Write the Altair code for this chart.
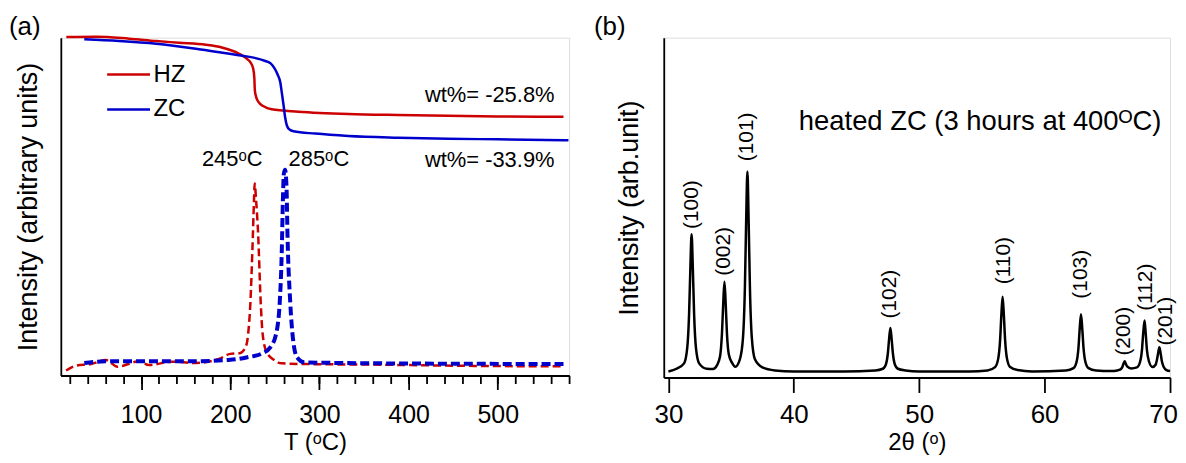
import altair as alt
import pandas as pd

FONT = "Liberation Sans"
RED = "#cc0000"
BLUE = "#0000cc"

# ---------------- panel (a): TGA (solid) and DTA (dashed) ----------------
hz_tga_T = [16.2, 49.7, 86.6, 116.8, 142.5, 172.6, 190.5, 209.5, 218.4, 222.9, 225.7,
            227.0, 227.6, 229.1, 231.8, 237.4, 246.4, 276.5, 332.4, 388.3, 444.1, 500.0, 573.7]
hz_tga_v = [100.2, 100.3, 99.7, 99.0, 98.5, 97.9, 97.1, 95.3, 93.8, 92.6, 90.9,
            88.2, 84.4, 82.4, 80.9, 79.7, 78.8, 78.1, 77.4, 77.1, 76.9, 76.7, 76.6]

zc_tga_T = [36.3, 75.4, 116.8, 164.8, 209.5, 226.3, 239.3, 245.3, 249.7, 253.1, 256.1, 258.1,
            259.8, 261.5, 263.5, 266.5, 271.0, 295.2, 332.4, 388.3, 444.1, 500.0, 579.3]
zc_tga_v = [99.5, 99.0, 98.2, 96.6, 94.8, 94.1, 93.1, 92.4, 90.9, 89.1, 86.8, 83.2,
            80.0, 76.5, 74.0, 72.8, 72.3, 71.6, 70.9, 70.4, 70.1, 69.9, 69.6]

hz_dta_T = [15.9, 27.0, 43.9, 60.6, 73.5, 97.8, 108.9, 134.6, 161.1, 187.2, 200.0, 210.6,
            217.1, 220.1, 222.7, 224.8, 226.6, 227.4, 229.1, 231.3, 234.1, 236.3, 240.8,
            249.2, 257.5, 283.2, 368.9, 454.2, 573.3]
hz_dta_v = [1.5, 2.9, 3.4, 4.6, 2.6, 4.2, 3.1, 4.1, 3.7, 4.9, 6.4, 6.6,
            8.3, 12.3, 22.1, 36.8, 51.5, 56.8, 51.5, 41.8, 22.1, 12.4, 6.9,
            4.6, 3.6, 3.4, 3.2, 2.9, 2.7]

zc_dta_T = [36.3, 60.6, 69.8, 154.7, 197.9, 209.5, 219.3, 236.3, 244.9, 251.4, 255.6, 257.8,
            259.0, 260.1, 261.5, 263.1, 264.2, 267.2, 270.6, 274.9, 283.2, 368.9, 578.0]
zc_dta_v = [3.7, 4.2, 4.2, 4.2, 4.6, 4.9, 5.4, 6.6, 8.3, 12.3, 22.1, 36.8,
            51.5, 59.7, 60.9, 55.9, 41.7, 22.1, 10.3, 5.4, 3.9, 3.6, 3.4]

ann_text = ["wt%= -25.8%", "wt%= -33.9%", "245ᵒC", "285ᵒC"]
ann_T = [491.0, 491.0, 202.2, 299.4]
ann_v = [82.9, 63.8, 64.1, 64.1]

# ---------------- panel (b): XRD ----------------
two_theta = [30.00, 30.65, 31.25, 31.50, 31.65, 31.75, 31.85, 31.95, 32.05, 32.20, 32.45, 33.05,
             33.55, 33.87, 34.12, 34.27, 34.37, 34.47, 34.57, 34.67, 34.82, 35.07, 35.33,
             35.70, 35.95, 36.10, 36.20, 36.30, 36.40, 36.50, 36.65, 36.90, 37.50, 38.50,
             40.00, 44.00,
             46.50, 47.10, 47.35, 47.50, 47.60, 47.70, 47.80, 47.90, 48.05, 48.30, 48.90,
             50.00, 54.00,
             55.45, 56.05, 56.30, 56.45, 56.55, 56.65, 56.75, 56.85, 57.00, 57.25, 57.85,
             59.00,
             61.70, 62.30, 62.55, 62.70, 62.80, 62.90, 63.00, 63.10, 63.25, 63.50, 64.10,
             65.30, 65.80, 66.05, 66.20, 66.28, 66.38, 66.48, 66.58, 66.90,
             67.36, 67.61, 67.76, 67.86, 67.97, 68.06, 68.16, 68.31, 68.60,
             68.85, 68.95, 69.05, 69.15, 69.25, 69.35, 69.50, 69.72, 70.00]
intensity = [18, 26, 42, 87, 189, 323, 425, 323, 189, 87, 42, 26,
             25, 36, 63, 130, 218, 284, 218, 130, 68, 44, 32,
             54, 119, 268, 463, 612, 463, 268, 119, 54, 30, 21,
             18, 18,
             21, 26, 40, 72, 115, 147, 115, 72, 40, 26, 21,
             18, 18,
             21, 31, 56, 111, 185, 240, 185, 111, 56, 31, 22,
             18,
             21, 28, 47, 89, 146, 188, 146, 89, 47, 28, 21,
             19, 21, 24, 31, 40, 48, 40, 33, 27,
             30, 46, 81, 131, 169, 131, 81, 49, 31,
             38, 51, 72, 90, 72, 48, 31, 22, 19]

hkl = ["(100)", "(002)", "(101)", "(102)", "(110)", "(103)", "(200)", "(112)", "(201)"]
hkl_x = [31.85, 34.47, 36.30, 47.70, 56.75, 62.90, 66.30, 68.06, 69.69]
hkl_y = [441, 302, 642, 175, 277, 234, 65, 198, 95]

# ---------------- data frames ----------------
tga = pd.DataFrame({
    "T": hz_tga_T + zc_tga_T,
    "v": hz_tga_v + zc_tga_v,
    "sample": ["HZ"] * len(hz_tga_T) + ["ZC"] * len(zc_tga_T),
})
dta_hz = pd.DataFrame({"T": hz_dta_T, "v": hz_dta_v})
dta_zc = pd.DataFrame({"T": zc_dta_T, "v": zc_dta_v})
ann = pd.DataFrame({"T": ann_T, "v": ann_v, "label": ann_text})
xrd = pd.DataFrame({"tt": two_theta, "I": intensity})
hkl_df = pd.DataFrame({"tt": hkl_x, "I": hkl_y, "label": hkl})

AXW = 1.8
xscale_a = alt.Scale(domain=[10, 580], nice=False, zero=False)
yscale_a = alt.Scale(domain=[0, 100], nice=False, zero=False)

axis_minor = alt.Axis(
    orient="bottom", values=list(range(20, 581, 20)), tickSize=8, labels=False,
    title=None, grid=False, domainColor="black", tickColor="black",
    domainWidth=AXW, tickWidth=AXW)
axis_major = alt.Axis(
    orient="bottom", values=[100, 200, 300, 400, 500], tickSize=14, labelFontSize=25,
    labelPadding=13, labelFlush=False, labelColor="black", labelFont=FONT,
    title="T (ᵒC)", titleFontSize=24, titleFont=FONT, titleFontWeight="normal",
    titleColor="black", titlePadding=3, grid=False, domainColor="black",
    tickColor="black", domainWidth=AXW, tickWidth=AXW)
axis_ya = alt.Axis(
    ticks=False, labels=False, grid=False, title="Intensity (arbitrary units)",
    titleFontSize=27, titleFont=FONT, titleFontWeight="normal", titleColor="black",
    titlePadding=18, domainColor="black", domainWidth=AXW)


def xa_minor():
    return alt.X("T:Q", scale=xscale_a, axis=axis_minor)


def xa_major():
    return alt.X("T:Q", scale=xscale_a, axis=axis_major)


def ya():
    return alt.Y("v:Q", scale=yscale_a, axis=axis_ya)


tga_layer = alt.Chart(tga).mark_line(strokeWidth=2.5, interpolate="monotone").encode(
    x=xa_minor(), y=ya(),
    color=alt.Color("sample:N",
                    scale=alt.Scale(domain=["HZ", "ZC"], range=[RED, BLUE]),
                    legend=alt.Legend(title=None, orient="none", legendX=45, legendY=14,
                                      symbolType="stroke", symbolSize=1849,
                                      symbolStrokeWidth=2.5, labelFontSize=24,
                                      labelFont=FONT, labelColor="black", rowPadding=-20,
                                      padding=0, labelOffset=2, labelLimit=0)),
    order=alt.Order("T:Q"),
)
dta_hz_layer = alt.Chart(dta_hz).mark_line(
    strokeWidth=2.5, strokeDash=[8, 4], color=RED, interpolate="monotone").encode(
    x=xa_major(), y=ya())
dta_zc_layer = alt.Chart(dta_zc).mark_line(
    strokeWidth=4, strokeDash=[9, 4], color=BLUE, interpolate="monotone").encode(
    x=xa_major(), y=ya())
ann_layer = alt.Chart(ann).mark_text(
    font=FONT, fontSize=22, align="center", baseline="middle", color="black").encode(
    x=xa_major(), y=ya(), text="label:N")
label_a = alt.Chart(pd.DataFrame({"t": ["(a)"]})).mark_text(
    font=FONT, fontSize=26, align="left", baseline="middle", color="black").encode(
    x=alt.value(-52), y=alt.value(-11), text="t:N")

group_major = alt.layer(dta_hz_layer, dta_zc_layer, ann_layer, label_a)
left = alt.layer(tga_layer, group_major).resolve_axis(
    x="independent").properties(width=510, height=339)

# ---------------- panel (b) ----------------
xscale_b = alt.Scale(domain=[29.63, 70], nice=False, zero=False)
yscale_b = alt.Scale(domain=[0, 1009], nice=False, zero=False)
axis_xb = alt.Axis(
    orient="bottom", values=[30, 40, 50, 60, 70], tickSize=15, labelFontSize=26,
    labelPadding=9, labelFlush=False, labelColor="black", labelFont=FONT,
    labelOffset={"condition": {"test": "datum.value === 70", "value": -7}, "value": 0},
    title="2θ  (ᵒ)", titleFontSize=24, titleFont=FONT, titleFontWeight="normal",
    titleColor="black", titlePadding=3, grid=False, domainColor="black",
    tickColor="black", domainWidth=AXW, tickWidth=AXW)
axis_yb = alt.Axis(
    ticks=False, labels=False, grid=False, title="Intensity (arb.unit)",
    titleFontSize=27, titleFont=FONT, titleFontWeight="normal", titleColor="black",
    titlePadding=20, domainColor="black", domainWidth=AXW)


def xb():
    return alt.X("tt:Q", scale=xscale_b, axis=axis_xb)


def yb():
    return alt.Y("I:Q", scale=yscale_b, axis=axis_yb)


xrd_layer = alt.Chart(xrd).mark_line(
    strokeWidth=2.5, color="black", interpolate="monotone").encode(x=xb(), y=yb())
hkl_layer = alt.Chart(hkl_df).mark_text(
    font=FONT, fontSize=21, angle=270, align="left", baseline="middle",
    color="black").encode(x=xb(), y=yb(), text="label:N")
heated = alt.Chart(pd.DataFrame({"tt": [40.40], "I": [760],
                                 "t": ["heated ZC (3 hours at 400ᴼC)"]})).mark_text(
    font=FONT, fontSize=27.5, align="left", baseline="middle", color="black").encode(
    x=xb(), y=yb(), text="t:N")
label_b = alt.Chart(pd.DataFrame({"t": ["(b)"]})).mark_text(
    font=FONT, fontSize=26, align="left", baseline="middle", color="black").encode(
    x=alt.value(-70), y=alt.value(-11), text="t:N")

right = alt.layer(xrd_layer, hkl_layer, heated, label_b).properties(width=508, height=341)

chart = alt.hconcat(left, right, spacing=17).properties(
    padding={"left": 0, "top": 4, "right": 0, "bottom": 0}
).configure_view(stroke=None).configure(font=FONT)

chart.save("out.html", embed_options={"renderer": "svg", "actions": False})
